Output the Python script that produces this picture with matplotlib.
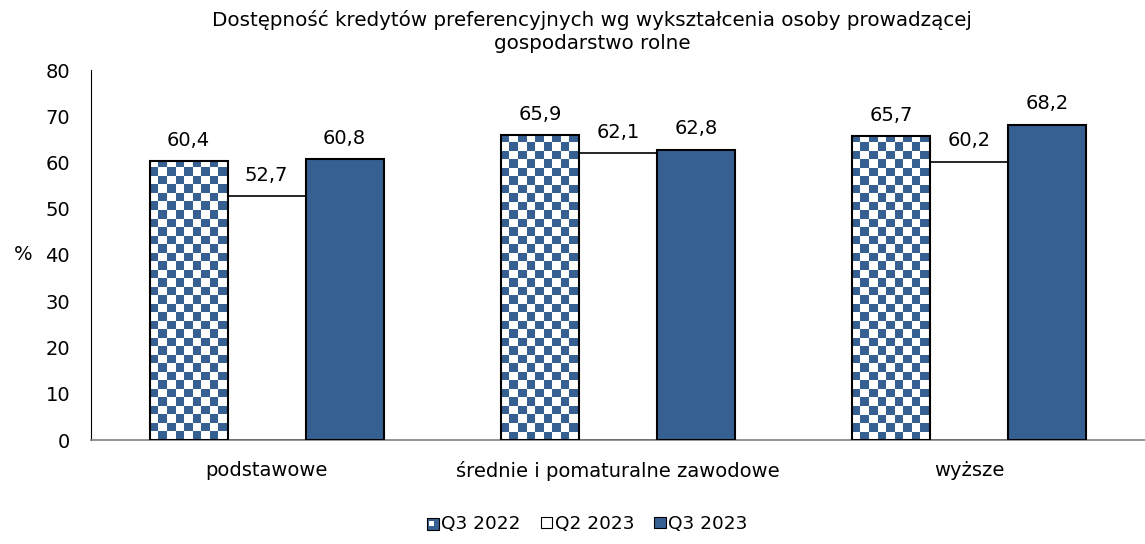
import numpy as np
import matplotlib.pyplot as plt
from matplotlib.patches import Rectangle
from matplotlib.colors import ListedColormap
from matplotlib.legend_handler import HandlerBase

categories = ["podstawowe", "średnie i pomaturalne zawodowe", "wyższe"]
series = ["Q3 2022", "Q2 2023", "Q3 2023"]
q3_2022 = [60.4, 65.9, 65.7]
q2_2023 = [52.7, 62.1, 60.2]
q3_2023 = [60.8, 62.8, 68.2]

blue = "#376092"
fs = 14.0
plt.rcParams['font.family'] = ['DejaVu Sans']


def checker_img(w_px, h_px, cell=8.5):
    nx = int(np.ceil(w_px / cell))
    ny = int(np.ceil(h_px / cell))
    yy, xx = np.mgrid[0:ny, 0:nx]
    return (xx + yy) % 2, nx * cell / w_px, ny * cell / h_px


class CheckerHandler(HandlerBase):
    # small checker-ish square for the legend
    def create_artists(self, legend, orig_handle, xd, yd, width, height, fontsize, trans):
        s = height
        x0 = xd + (width - s) / 2
        y0 = yd
        arts = [Rectangle((x0, y0), s, s, facecolor=blue, edgecolor='none', transform=trans)]
        arts.append(Rectangle((x0 + s * 0.15, y0 + s * 0.3), s * 0.45, s * 0.45, facecolor='white',
                              edgecolor='none', transform=trans))
        arts.append(Rectangle((x0, y0), s, s, facecolor='none', edgecolor='black', lw=0.8, transform=trans))
        return arts


fig = plt.figure(figsize=(11.45, 5.44), dpi=100)
ax = fig.add_axes([91 / 1145, 1 - 440 / 544, 1054 / 1145, 370 / 544])

x = np.arange(len(categories))
w = 0.222
ax.set_xlim(-0.5, 2.5)
ax.set_ylim(0, 80)

bars1 = ax.bar(x - w, q3_2022, w, facecolor='none', edgecolor='black', lw=1.5, zorder=3)
bars2 = ax.bar(x, q2_2023, w, facecolor='white', edgecolor='black', lw=1.2, zorder=2)
bars3 = ax.bar(x + w, q3_2023, w, facecolor=blue, edgecolor='black', lw=1.5, zorder=3)

# checkerboard fill for Q3 2022 bars
fig.canvas.draw()
cmap = ListedColormap(['white', blue])
for b in bars1:
    bb = b.get_window_extent()
    img, fx, fy = checker_img(bb.width, bb.height)
    x0 = b.get_x()
    im = ax.imshow(img, cmap=cmap, extent=[x0, x0 + b.get_width() * fx, 0, b.get_height() * fy],
                   origin='lower', interpolation='nearest', aspect='auto', zorder=2.5)
    im.set_clip_path(b)
ax.set_xlim(-0.5, 2.5)
ax.set_ylim(0, 80)

for bars in (bars1, bars2, bars3):
    for b in bars:
        ax.annotate(f"{b.get_height():.1f}".replace('.', ','),
                    (b.get_x() + b.get_width() / 2, b.get_height()),
                    xytext=(0, 8), textcoords='offset points',
                    ha='center', va='bottom', fontsize=fs)

for s in ('top', 'right'):
    ax.spines[s].set_visible(False)
ax.spines['left'].set_color('black')
ax.spines['bottom'].set_color('#808080')
ax.spines['bottom'].set_linewidth(1.2)
ax.set_yticks(range(0, 81, 10))
ax.tick_params(axis='y', length=0, labelsize=fs, pad=15)
ax.set_xticks(x)
ax.set_xticklabels(categories)
ax.tick_params(axis='x', length=0, labelsize=fs, pad=15)
ax.set_ylabel('%', rotation=0, fontsize=fs, va='center', ha='center')
ax.yaxis.set_label_coords(-0.064, 0.5)

fig.text(0.517, 0.982, "Dostępność kredytów preferencyjnych wg wykształcenia osoby prowadzącej\ngospodarstwo rolne",
         ha='center', va='top', fontsize=14.3, linespacing=1.3)

h1 = Rectangle((0, 0), 1, 1)
h2 = Rectangle((0, 0), 1, 1, facecolor='white', edgecolor='black', lw=0.8)
h3 = Rectangle((0, 0), 1, 1, facecolor=blue, edgecolor='black', lw=0.8)
fig.legend([h1, h2, h3], series, loc='center', bbox_to_anchor=(0.513, 1 - 524 / 544),
           ncol=3, frameon=False, fontsize=13.3, handlelength=0.6, handleheight=0.6,
           handletextpad=0.15, columnspacing=1.1, handler_map={h1: CheckerHandler()})

fig.savefig('out.png', dpi=100)
